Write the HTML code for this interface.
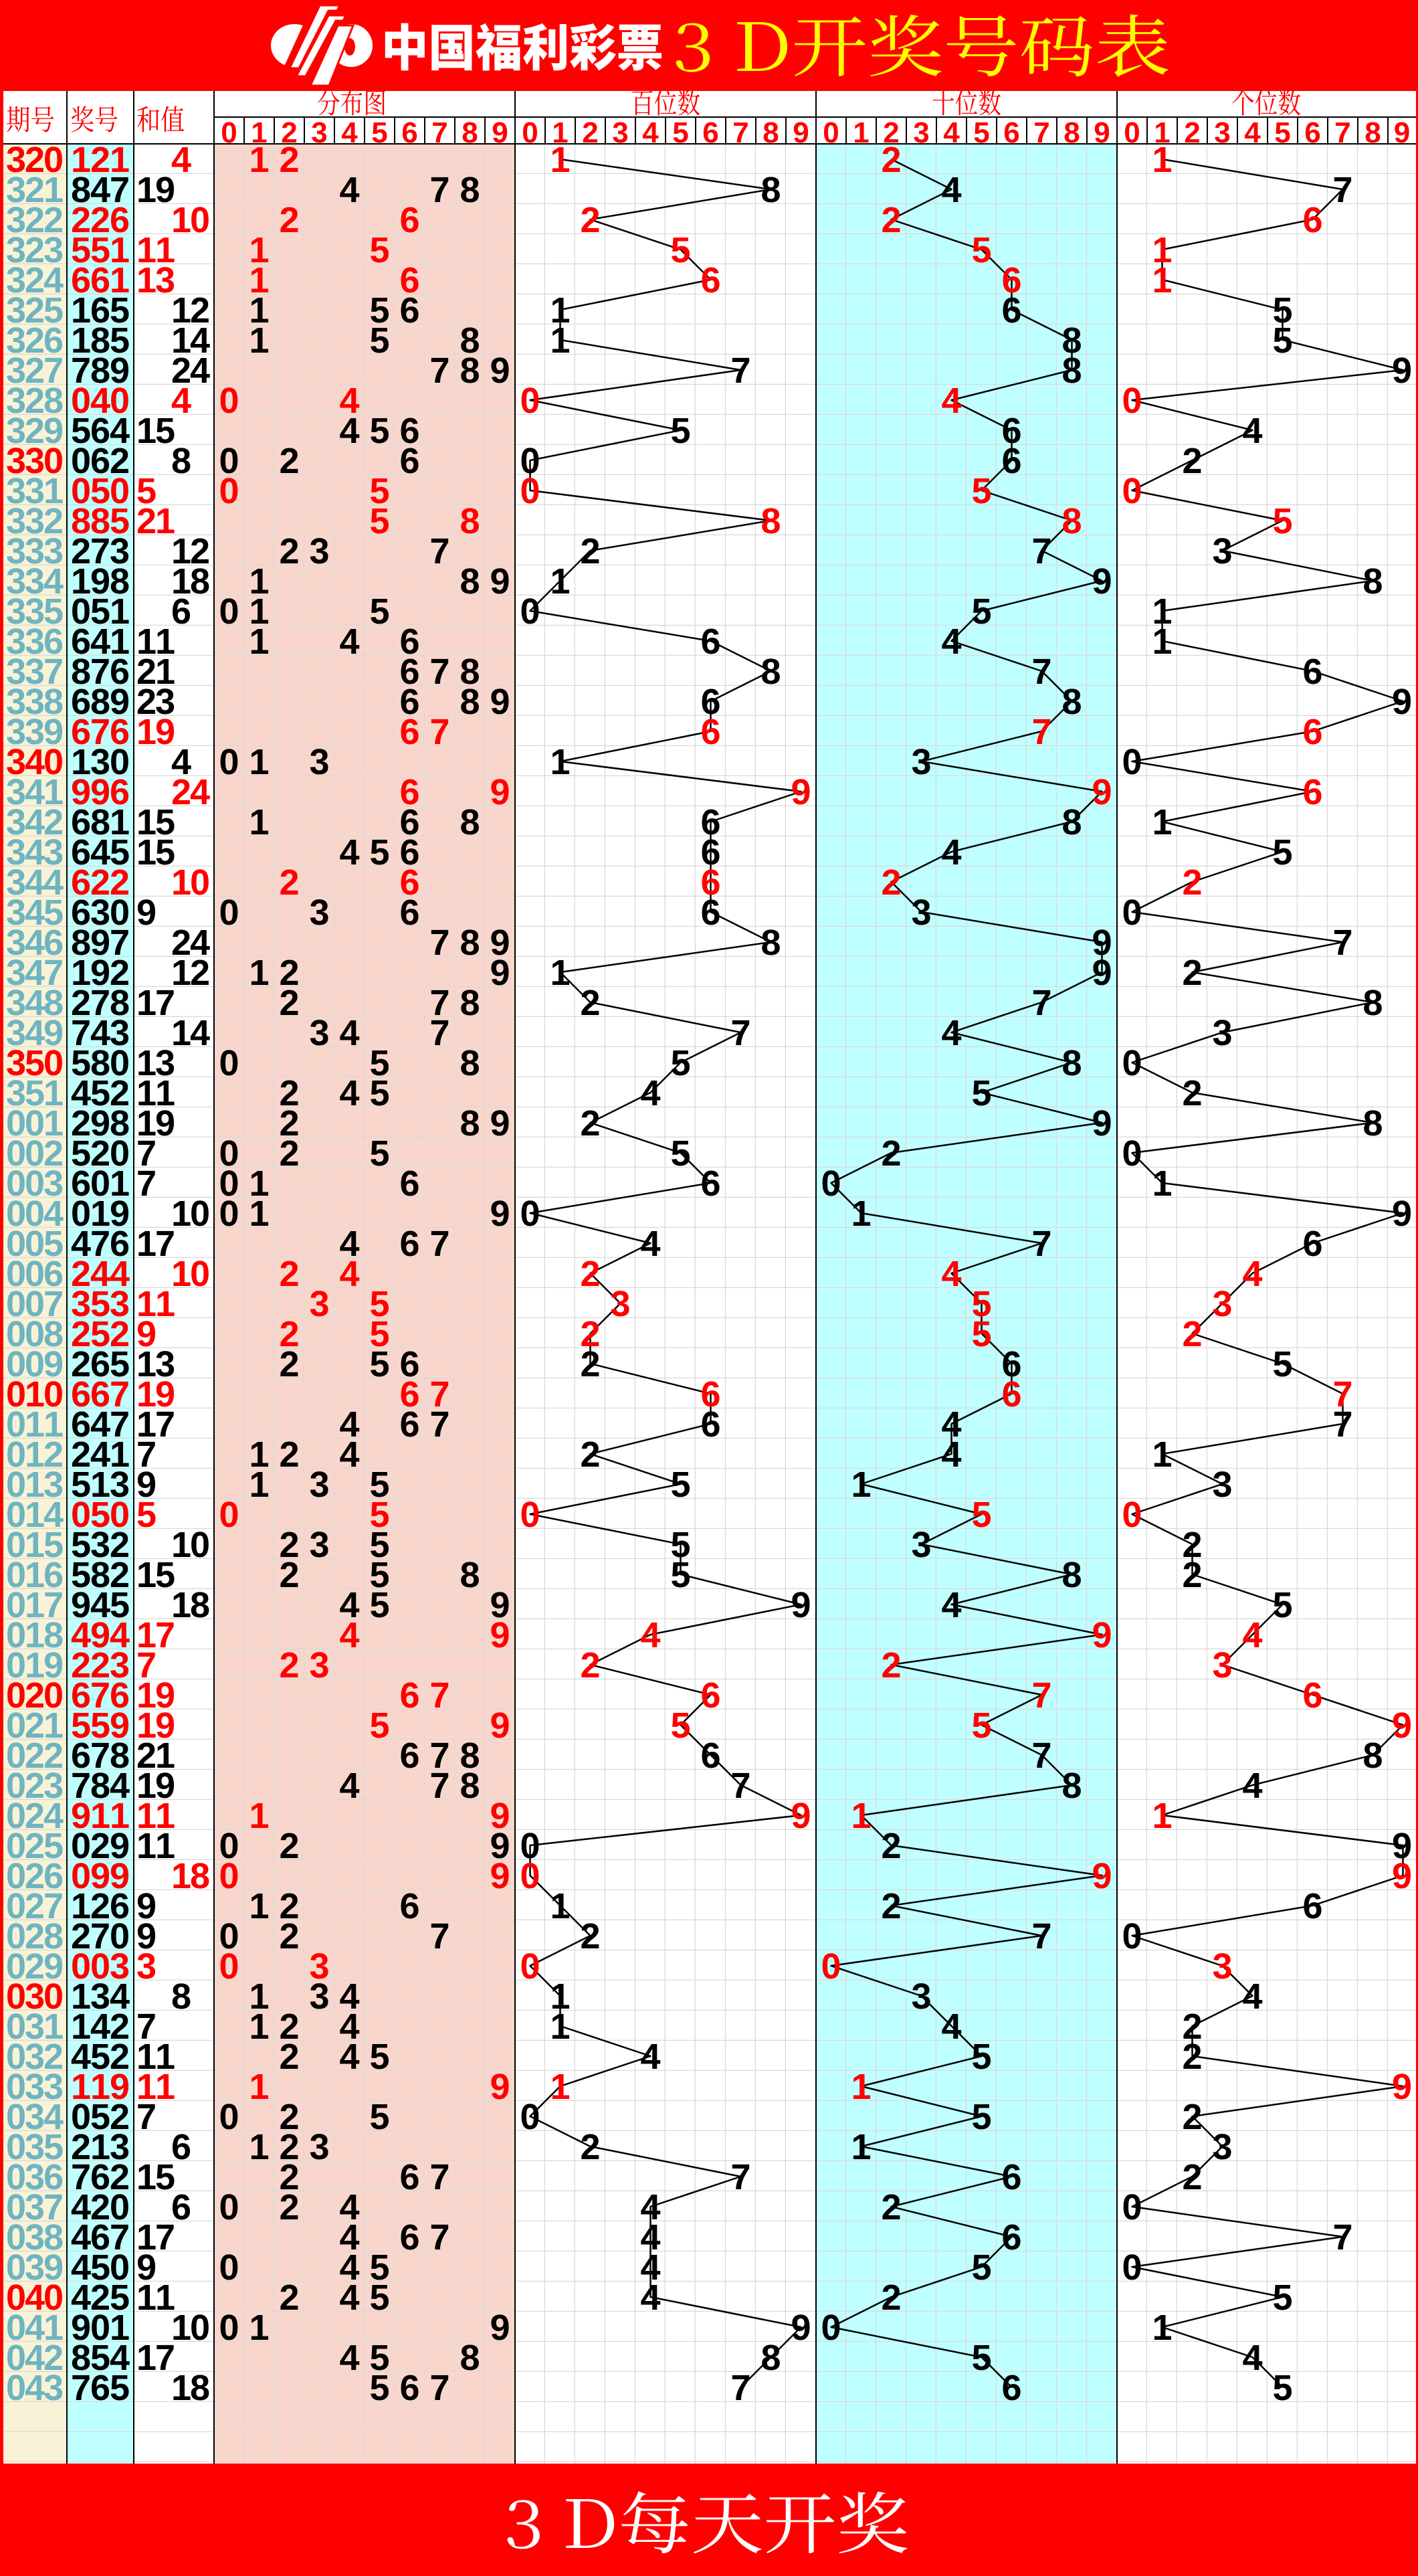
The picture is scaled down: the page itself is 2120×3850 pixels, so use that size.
<!DOCTYPE html>
<html><head><meta charset="utf-8"><style>
html,body{margin:0;padding:0;background:#fff}
svg{display:block}
text{font-family:"Liberation Sans",sans-serif;font-weight:bold;font-size:54px;text-anchor:middle}
.k{fill:#000}.r{fill:#f00}
.t{fill:#6fb4c1}.pr{fill:#f00}
.hd{font-family:"Noto Serif CJK SC","Liberation Serif",serif;font-weight:normal;font-size:42px;fill:#f00;text-anchor:start}
.hn{font-size:44px;fill:#f00}
.pl{fill:none;stroke:#000;stroke-width:2.5;vector-effect:non-scaling-stroke;stroke-linejoin:round}
</style></head><body>
<svg width="2120" height="3850" viewBox="0 0 2120 3850" xmlns="http://www.w3.org/2000/svg">
<defs>
<pattern id="g" x="320" y="215" width="45" height="45" patternUnits="userSpaceOnUse"><path d="M44.5 0V44.5H0" fill="none" stroke="#d9d9d9" stroke-width="1.6"/></pattern>
<pattern id="h" x="0" y="215" width="45" height="45" patternUnits="userSpaceOnUse"><path d="M0 44.5H45" fill="none" stroke="#d9d9d9" stroke-width="1.6"/></pattern>
</defs>
<rect width="2120" height="3850" fill="#fff"/>
<rect x="5" y="215" width="95" height="3467" fill="#f8f3d6"/>
<rect x="100" y="215" width="100" height="3467" fill="#c0ffff"/>
<rect x="320" y="215" width="450" height="3467" fill="#f9d6cc"/>
<rect x="1220" y="215" width="450" height="3467" fill="#c0ffff"/>
<rect x="5" y="215" width="315" height="3467" fill="url(#h)"/>
<rect x="320" y="215" width="1797" height="3467" fill="url(#g)"/>
<rect x="0" y="0" width="2120" height="136" fill="#f00"/>
<g fill="#fff">
<ellipse cx="440" cy="68" rx="35" ry="32"/>
<ellipse cx="525" cy="68" rx="32" ry="32"/>
</g>
<g fill="#f00">
<ellipse cx="449" cy="70" rx="8" ry="13"/>
<polygon points="470,0 480,0 430,110 420,110"/>
</g>
<g fill="#fff" stroke="#f00" stroke-width="3">
<polygon points="478,8 508,8 504,16 491,16 447,102 433,102"/>
<polygon points="491,23 517,23 513,31 502,31 457,114 443,114"/>
<polygon points="505,38 528,38 492,128 464,128"/>
</g>
<ellipse cx="523" cy="70" rx="8" ry="13" fill="#f00"/>
<text x="570" y="98" textLength="422" lengthAdjust="spacingAndGlyphs" style="font-family:'Noto Sans CJK SC',sans-serif;font-weight:900;font-size:74px;fill:#fff;text-anchor:start">中国福利彩票</text>
<text x="1005" y="106" textLength="745" lengthAdjust="spacingAndGlyphs" style="font-family:'Noto Serif CJK SC','Liberation Serif',serif;font-weight:normal;font-size:100px;fill:#ff0;text-anchor:start">3 D开奖号码表</text>
<rect x="0" y="0" width="5" height="3850" fill="#f00"/>
<rect x="2117" y="0" width="3" height="3850" fill="#f00"/>
<rect x="0" y="3682" width="2120" height="168" fill="#f00"/>
<text x="753" y="3808" textLength="606" lengthAdjust="spacingAndGlyphs" style="font-family:'Noto Serif CJK SC','Liberation Serif',serif;font-weight:normal;font-size:100px;fill:#fff;text-anchor:start">3 D每天开奖</text>
<text class="hd" x="9" y="194" textLength="73" lengthAdjust="spacingAndGlyphs">期号</text>
<text class="hd" x="105" y="194" textLength="72" lengthAdjust="spacingAndGlyphs">奖号</text>
<text class="hd" x="204" y="194" textLength="72" lengthAdjust="spacingAndGlyphs">和值</text>
<text class="hd" x="474" y="169" textLength="104" lengthAdjust="spacingAndGlyphs">分布图</text>
<text class="hd" x="943" y="169" textLength="104" lengthAdjust="spacingAndGlyphs">百位数</text>
<text class="hd" x="1393" y="169" textLength="104" lengthAdjust="spacingAndGlyphs">十位数</text>
<text class="hd" x="1841" y="169" textLength="104" lengthAdjust="spacingAndGlyphs">个位数</text>
<text class="hn" y="213" x="342.5 387.5 432.5 477.5 522.5 567.5 612.5 657.5 702.5 747.5">0123456789</text>
<text class="hn" y="213" x="792.5 837.5 882.5 927.5 972.5 1017.5 1062.5 1107.5 1152.5 1197.5">0123456789</text>
<text class="hn" y="213" x="1242.5 1287.5 1332.5 1377.5 1422.5 1467.5 1512.5 1557.5 1602.5 1647.5">0123456789</text>
<text class="hn" y="213" x="1692.5 1737.5 1782.5 1827.5 1872.5 1917.5 1962.5 2007.5 2052.5 2096">0123456789</text>
<g stroke="#000" stroke-width="2" fill="none">
<path d="M320 175H2117M5 215H2117"/>
<path d="M100 136V3682M200 136V3682M320 136V3682M770 136V3682M1220 136V3682M1670 136V3682"/>
<path d="M365 175V215M410 175V215M455 175V215M500 175V215M545 175V215M590 175V215M635 175V215M680 175V215M725 175V215"/>
<path d="M815 175V215M860 175V215M905 175V215M950 175V215M995 175V215M1040 175V215M1085 175V215M1130 175V215M1175 175V215"/>
<path d="M1265 175V215M1310 175V215M1355 175V215M1400 175V215M1445 175V215M1490 175V215M1535 175V215M1580 175V215M1625 175V215"/>
<path d="M1715 175V215M1760 175V215M1805 175V215M1850 175V215M1895 175V215M1940 175V215M1985 175V215M2030 175V215M2075 175V215"/>
</g>
<polyline class="pl" transform="translate(792.5,238) scale(45)" points="1,0 8,1 2,2 5,3 6,4 1,5 1,6 7,7 0,8 5,9 0,10 0,11 8,12 2,13 1,14 0,15 6,16 8,17 6,18 6,19 1,20 9,21 6,22 6,23 6,24 6,25 8,26 1,27 2,28 7,29 5,30 4,31 2,32 5,33 6,34 0,35 4,36 2,37 3,38 2,39 2,40 6,41 6,42 2,43 5,44 0,45 5,46 5,47 9,48 4,49 2,50 6,51 5,52 6,53 7,54 9,55 0,56 0,57 1,58 2,59 0,60 1,61 1,62 4,63 1,64 0,65 2,66 7,67 4,68 4,69 4,70 4,71 9,72 8,73 7,74"/>
<polyline class="pl" transform="translate(1242.5,238) scale(45)" points="2,0 4,1 2,2 5,3 6,4 6,5 8,6 8,7 4,8 6,9 6,10 5,11 8,12 7,13 9,14 5,15 4,16 7,17 8,18 7,19 3,20 9,21 8,22 4,23 2,24 3,25 9,26 9,27 7,28 4,29 8,30 5,31 9,32 2,33 0,34 1,35 7,36 4,37 5,38 5,39 6,40 6,41 4,42 4,43 1,44 5,45 3,46 8,47 4,48 9,49 2,50 7,51 5,52 7,53 8,54 1,55 2,56 9,57 2,58 7,59 0,60 3,61 4,62 5,63 1,64 5,65 1,66 6,67 2,68 6,69 5,70 2,71 0,72 5,73 6,74"/>
<polyline class="pl" transform="translate(1692.5,238) scale(45)" points="1,0 7,1 6,2 1,3 1,4 5,5 5,6 9,7 0,8 4,9 2,10 0,11 5,12 3,13 8,14 1,15 1,16 6,17 9,18 6,19 0,20 6,21 1,22 5,23 2,24 0,25 7,26 2,27 8,28 3,29 0,30 2,31 8,32 0,33 1,34 9,35 6,36 4,37 3,38 2,39 5,40 7,41 7,42 1,43 3,44 0,45 2,46 2,47 5,48 4,49 3,50 6,51 9,52 8,53 4,54 1,55 9,56 9,57 6,58 0,59 3,60 4,61 2,62 2,63 9,64 2,65 3,66 2,67 0,68 7,69 0,70 5,71 1,72 4,73 5,74"/>
<g class="r" transform="translate(0,257)"><text class="pr" x="24 52 80">320</text><text x="121 150 179">121</text><text x="271">4</text><text x="387.5 432.5">12</text><text x="837.5">1</text><text x="1332.5">2</text><text x="1737.5">1</text></g>
<g class="k" transform="translate(0,302)"><text class="t" x="24 52 80">321</text><text x="121 150 179">847</text><text x="219 247">19</text><text x="522.5 657.5 702.5">478</text><text x="1152.5">8</text><text x="1422.5">4</text><text x="2007.5">7</text></g>
<g class="r" transform="translate(0,347)"><text class="t" x="24 52 80">322</text><text x="121 150 179">226</text><text x="271 299">10</text><text x="432.5 612.5">26</text><text x="882.5">2</text><text x="1332.5">2</text><text x="1962.5">6</text></g>
<g class="r" transform="translate(0,392)"><text class="t" x="24 52 80">323</text><text x="121 150 179">551</text><text x="219 247">11</text><text x="387.5 567.5">15</text><text x="1017.5">5</text><text x="1467.5">5</text><text x="1737.5">1</text></g>
<g class="r" transform="translate(0,437)"><text class="t" x="24 52 80">324</text><text x="121 150 179">661</text><text x="219 247">13</text><text x="387.5 612.5">16</text><text x="1062.5">6</text><text x="1512.5">6</text><text x="1737.5">1</text></g>
<g class="k" transform="translate(0,482)"><text class="t" x="24 52 80">325</text><text x="121 150 179">165</text><text x="271 299">12</text><text x="387.5 567.5 612.5">156</text><text x="837.5">1</text><text x="1512.5">6</text><text x="1917.5">5</text></g>
<g class="k" transform="translate(0,527)"><text class="t" x="24 52 80">326</text><text x="121 150 179">185</text><text x="271 299">14</text><text x="387.5 567.5 702.5">158</text><text x="837.5">1</text><text x="1602.5">8</text><text x="1917.5">5</text></g>
<g class="k" transform="translate(0,572)"><text class="t" x="24 52 80">327</text><text x="121 150 179">789</text><text x="271 299">24</text><text x="657.5 702.5 747.5">789</text><text x="1107.5">7</text><text x="1602.5">8</text><text x="2096">9</text></g>
<g class="r" transform="translate(0,617)"><text class="t" x="24 52 80">328</text><text x="121 150 179">040</text><text x="271">4</text><text x="342.5 522.5">04</text><text x="792.5">0</text><text x="1422.5">4</text><text x="1692.5">0</text></g>
<g class="k" transform="translate(0,662)"><text class="t" x="24 52 80">329</text><text x="121 150 179">564</text><text x="219 247">15</text><text x="522.5 567.5 612.5">456</text><text x="1017.5">5</text><text x="1512.5">6</text><text x="1872.5">4</text></g>
<g class="k" transform="translate(0,707)"><text class="pr" x="24 52 80">330</text><text x="121 150 179">062</text><text x="271">8</text><text x="342.5 432.5 612.5">026</text><text x="792.5">0</text><text x="1512.5">6</text><text x="1782.5">2</text></g>
<g class="r" transform="translate(0,752)"><text class="t" x="24 52 80">331</text><text x="121 150 179">050</text><text x="219">5</text><text x="342.5 567.5">05</text><text x="792.5">0</text><text x="1467.5">5</text><text x="1692.5">0</text></g>
<g class="r" transform="translate(0,797)"><text class="t" x="24 52 80">332</text><text x="121 150 179">885</text><text x="219 247">21</text><text x="567.5 702.5">58</text><text x="1152.5">8</text><text x="1602.5">8</text><text x="1917.5">5</text></g>
<g class="k" transform="translate(0,842)"><text class="t" x="24 52 80">333</text><text x="121 150 179">273</text><text x="271 299">12</text><text x="432.5 477.5 657.5">237</text><text x="882.5">2</text><text x="1557.5">7</text><text x="1827.5">3</text></g>
<g class="k" transform="translate(0,887)"><text class="t" x="24 52 80">334</text><text x="121 150 179">198</text><text x="271 299">18</text><text x="387.5 702.5 747.5">189</text><text x="837.5">1</text><text x="1647.5">9</text><text x="2052.5">8</text></g>
<g class="k" transform="translate(0,932)"><text class="t" x="24 52 80">335</text><text x="121 150 179">051</text><text x="271">6</text><text x="342.5 387.5 567.5">015</text><text x="792.5">0</text><text x="1467.5">5</text><text x="1737.5">1</text></g>
<g class="k" transform="translate(0,977)"><text class="t" x="24 52 80">336</text><text x="121 150 179">641</text><text x="219 247">11</text><text x="387.5 522.5 612.5">146</text><text x="1062.5">6</text><text x="1422.5">4</text><text x="1737.5">1</text></g>
<g class="k" transform="translate(0,1022)"><text class="t" x="24 52 80">337</text><text x="121 150 179">876</text><text x="219 247">21</text><text x="612.5 657.5 702.5">678</text><text x="1152.5">8</text><text x="1557.5">7</text><text x="1962.5">6</text></g>
<g class="k" transform="translate(0,1067)"><text class="t" x="24 52 80">338</text><text x="121 150 179">689</text><text x="219 247">23</text><text x="612.5 702.5 747.5">689</text><text x="1062.5">6</text><text x="1602.5">8</text><text x="2096">9</text></g>
<g class="r" transform="translate(0,1112)"><text class="t" x="24 52 80">339</text><text x="121 150 179">676</text><text x="219 247">19</text><text x="612.5 657.5">67</text><text x="1062.5">6</text><text x="1557.5">7</text><text x="1962.5">6</text></g>
<g class="k" transform="translate(0,1157)"><text class="pr" x="24 52 80">340</text><text x="121 150 179">130</text><text x="271">4</text><text x="342.5 387.5 477.5">013</text><text x="837.5">1</text><text x="1377.5">3</text><text x="1692.5">0</text></g>
<g class="r" transform="translate(0,1202)"><text class="t" x="24 52 80">341</text><text x="121 150 179">996</text><text x="271 299">24</text><text x="612.5 747.5">69</text><text x="1197.5">9</text><text x="1647.5">9</text><text x="1962.5">6</text></g>
<g class="k" transform="translate(0,1247)"><text class="t" x="24 52 80">342</text><text x="121 150 179">681</text><text x="219 247">15</text><text x="387.5 612.5 702.5">168</text><text x="1062.5">6</text><text x="1602.5">8</text><text x="1737.5">1</text></g>
<g class="k" transform="translate(0,1292)"><text class="t" x="24 52 80">343</text><text x="121 150 179">645</text><text x="219 247">15</text><text x="522.5 567.5 612.5">456</text><text x="1062.5">6</text><text x="1422.5">4</text><text x="1917.5">5</text></g>
<g class="r" transform="translate(0,1337)"><text class="t" x="24 52 80">344</text><text x="121 150 179">622</text><text x="271 299">10</text><text x="432.5 612.5">26</text><text x="1062.5">6</text><text x="1332.5">2</text><text x="1782.5">2</text></g>
<g class="k" transform="translate(0,1382)"><text class="t" x="24 52 80">345</text><text x="121 150 179">630</text><text x="219">9</text><text x="342.5 477.5 612.5">036</text><text x="1062.5">6</text><text x="1377.5">3</text><text x="1692.5">0</text></g>
<g class="k" transform="translate(0,1427)"><text class="t" x="24 52 80">346</text><text x="121 150 179">897</text><text x="271 299">24</text><text x="657.5 702.5 747.5">789</text><text x="1152.5">8</text><text x="1647.5">9</text><text x="2007.5">7</text></g>
<g class="k" transform="translate(0,1472)"><text class="t" x="24 52 80">347</text><text x="121 150 179">192</text><text x="271 299">12</text><text x="387.5 432.5 747.5">129</text><text x="837.5">1</text><text x="1647.5">9</text><text x="1782.5">2</text></g>
<g class="k" transform="translate(0,1517)"><text class="t" x="24 52 80">348</text><text x="121 150 179">278</text><text x="219 247">17</text><text x="432.5 657.5 702.5">278</text><text x="882.5">2</text><text x="1557.5">7</text><text x="2052.5">8</text></g>
<g class="k" transform="translate(0,1562)"><text class="t" x="24 52 80">349</text><text x="121 150 179">743</text><text x="271 299">14</text><text x="477.5 522.5 657.5">347</text><text x="1107.5">7</text><text x="1422.5">4</text><text x="1827.5">3</text></g>
<g class="k" transform="translate(0,1607)"><text class="pr" x="24 52 80">350</text><text x="121 150 179">580</text><text x="219 247">13</text><text x="342.5 567.5 702.5">058</text><text x="1017.5">5</text><text x="1602.5">8</text><text x="1692.5">0</text></g>
<g class="k" transform="translate(0,1652)"><text class="t" x="24 52 80">351</text><text x="121 150 179">452</text><text x="219 247">11</text><text x="432.5 522.5 567.5">245</text><text x="972.5">4</text><text x="1467.5">5</text><text x="1782.5">2</text></g>
<g class="k" transform="translate(0,1697)"><text class="t" x="24 52 80">001</text><text x="121 150 179">298</text><text x="219 247">19</text><text x="432.5 702.5 747.5">289</text><text x="882.5">2</text><text x="1647.5">9</text><text x="2052.5">8</text></g>
<g class="k" transform="translate(0,1742)"><text class="t" x="24 52 80">002</text><text x="121 150 179">520</text><text x="219">7</text><text x="342.5 432.5 567.5">025</text><text x="1017.5">5</text><text x="1332.5">2</text><text x="1692.5">0</text></g>
<g class="k" transform="translate(0,1787)"><text class="t" x="24 52 80">003</text><text x="121 150 179">601</text><text x="219">7</text><text x="342.5 387.5 612.5">016</text><text x="1062.5">6</text><text x="1242.5">0</text><text x="1737.5">1</text></g>
<g class="k" transform="translate(0,1832)"><text class="t" x="24 52 80">004</text><text x="121 150 179">019</text><text x="271 299">10</text><text x="342.5 387.5 747.5">019</text><text x="792.5">0</text><text x="1287.5">1</text><text x="2096">9</text></g>
<g class="k" transform="translate(0,1877)"><text class="t" x="24 52 80">005</text><text x="121 150 179">476</text><text x="219 247">17</text><text x="522.5 612.5 657.5">467</text><text x="972.5">4</text><text x="1557.5">7</text><text x="1962.5">6</text></g>
<g class="r" transform="translate(0,1922)"><text class="t" x="24 52 80">006</text><text x="121 150 179">244</text><text x="271 299">10</text><text x="432.5 522.5">24</text><text x="882.5">2</text><text x="1422.5">4</text><text x="1872.5">4</text></g>
<g class="r" transform="translate(0,1967)"><text class="t" x="24 52 80">007</text><text x="121 150 179">353</text><text x="219 247">11</text><text x="477.5 567.5">35</text><text x="927.5">3</text><text x="1467.5">5</text><text x="1827.5">3</text></g>
<g class="r" transform="translate(0,2012)"><text class="t" x="24 52 80">008</text><text x="121 150 179">252</text><text x="219">9</text><text x="432.5 567.5">25</text><text x="882.5">2</text><text x="1467.5">5</text><text x="1782.5">2</text></g>
<g class="k" transform="translate(0,2057)"><text class="t" x="24 52 80">009</text><text x="121 150 179">265</text><text x="219 247">13</text><text x="432.5 567.5 612.5">256</text><text x="882.5">2</text><text x="1512.5">6</text><text x="1917.5">5</text></g>
<g class="r" transform="translate(0,2102)"><text class="pr" x="24 52 80">010</text><text x="121 150 179">667</text><text x="219 247">19</text><text x="612.5 657.5">67</text><text x="1062.5">6</text><text x="1512.5">6</text><text x="2007.5">7</text></g>
<g class="k" transform="translate(0,2147)"><text class="t" x="24 52 80">011</text><text x="121 150 179">647</text><text x="219 247">17</text><text x="522.5 612.5 657.5">467</text><text x="1062.5">6</text><text x="1422.5">4</text><text x="2007.5">7</text></g>
<g class="k" transform="translate(0,2192)"><text class="t" x="24 52 80">012</text><text x="121 150 179">241</text><text x="219">7</text><text x="387.5 432.5 522.5">124</text><text x="882.5">2</text><text x="1422.5">4</text><text x="1737.5">1</text></g>
<g class="k" transform="translate(0,2237)"><text class="t" x="24 52 80">013</text><text x="121 150 179">513</text><text x="219">9</text><text x="387.5 477.5 567.5">135</text><text x="1017.5">5</text><text x="1287.5">1</text><text x="1827.5">3</text></g>
<g class="r" transform="translate(0,2282)"><text class="t" x="24 52 80">014</text><text x="121 150 179">050</text><text x="219">5</text><text x="342.5 567.5">05</text><text x="792.5">0</text><text x="1467.5">5</text><text x="1692.5">0</text></g>
<g class="k" transform="translate(0,2327)"><text class="t" x="24 52 80">015</text><text x="121 150 179">532</text><text x="271 299">10</text><text x="432.5 477.5 567.5">235</text><text x="1017.5">5</text><text x="1377.5">3</text><text x="1782.5">2</text></g>
<g class="k" transform="translate(0,2372)"><text class="t" x="24 52 80">016</text><text x="121 150 179">582</text><text x="219 247">15</text><text x="432.5 567.5 702.5">258</text><text x="1017.5">5</text><text x="1602.5">8</text><text x="1782.5">2</text></g>
<g class="k" transform="translate(0,2417)"><text class="t" x="24 52 80">017</text><text x="121 150 179">945</text><text x="271 299">18</text><text x="522.5 567.5 747.5">459</text><text x="1197.5">9</text><text x="1422.5">4</text><text x="1917.5">5</text></g>
<g class="r" transform="translate(0,2462)"><text class="t" x="24 52 80">018</text><text x="121 150 179">494</text><text x="219 247">17</text><text x="522.5 747.5">49</text><text x="972.5">4</text><text x="1647.5">9</text><text x="1872.5">4</text></g>
<g class="r" transform="translate(0,2507)"><text class="t" x="24 52 80">019</text><text x="121 150 179">223</text><text x="219">7</text><text x="432.5 477.5">23</text><text x="882.5">2</text><text x="1332.5">2</text><text x="1827.5">3</text></g>
<g class="r" transform="translate(0,2552)"><text class="pr" x="24 52 80">020</text><text x="121 150 179">676</text><text x="219 247">19</text><text x="612.5 657.5">67</text><text x="1062.5">6</text><text x="1557.5">7</text><text x="1962.5">6</text></g>
<g class="r" transform="translate(0,2597)"><text class="t" x="24 52 80">021</text><text x="121 150 179">559</text><text x="219 247">19</text><text x="567.5 747.5">59</text><text x="1017.5">5</text><text x="1467.5">5</text><text x="2096">9</text></g>
<g class="k" transform="translate(0,2642)"><text class="t" x="24 52 80">022</text><text x="121 150 179">678</text><text x="219 247">21</text><text x="612.5 657.5 702.5">678</text><text x="1062.5">6</text><text x="1557.5">7</text><text x="2052.5">8</text></g>
<g class="k" transform="translate(0,2687)"><text class="t" x="24 52 80">023</text><text x="121 150 179">784</text><text x="219 247">19</text><text x="522.5 657.5 702.5">478</text><text x="1107.5">7</text><text x="1602.5">8</text><text x="1872.5">4</text></g>
<g class="r" transform="translate(0,2732)"><text class="t" x="24 52 80">024</text><text x="121 150 179">911</text><text x="219 247">11</text><text x="387.5 747.5">19</text><text x="1197.5">9</text><text x="1287.5">1</text><text x="1737.5">1</text></g>
<g class="k" transform="translate(0,2777)"><text class="t" x="24 52 80">025</text><text x="121 150 179">029</text><text x="219 247">11</text><text x="342.5 432.5 747.5">029</text><text x="792.5">0</text><text x="1332.5">2</text><text x="2096">9</text></g>
<g class="r" transform="translate(0,2822)"><text class="t" x="24 52 80">026</text><text x="121 150 179">099</text><text x="271 299">18</text><text x="342.5 747.5">09</text><text x="792.5">0</text><text x="1647.5">9</text><text x="2096">9</text></g>
<g class="k" transform="translate(0,2867)"><text class="t" x="24 52 80">027</text><text x="121 150 179">126</text><text x="219">9</text><text x="387.5 432.5 612.5">126</text><text x="837.5">1</text><text x="1332.5">2</text><text x="1962.5">6</text></g>
<g class="k" transform="translate(0,2912)"><text class="t" x="24 52 80">028</text><text x="121 150 179">270</text><text x="219">9</text><text x="342.5 432.5 657.5">027</text><text x="882.5">2</text><text x="1557.5">7</text><text x="1692.5">0</text></g>
<g class="r" transform="translate(0,2957)"><text class="t" x="24 52 80">029</text><text x="121 150 179">003</text><text x="219">3</text><text x="342.5 477.5">03</text><text x="792.5">0</text><text x="1242.5">0</text><text x="1827.5">3</text></g>
<g class="k" transform="translate(0,3002)"><text class="pr" x="24 52 80">030</text><text x="121 150 179">134</text><text x="271">8</text><text x="387.5 477.5 522.5">134</text><text x="837.5">1</text><text x="1377.5">3</text><text x="1872.5">4</text></g>
<g class="k" transform="translate(0,3047)"><text class="t" x="24 52 80">031</text><text x="121 150 179">142</text><text x="219">7</text><text x="387.5 432.5 522.5">124</text><text x="837.5">1</text><text x="1422.5">4</text><text x="1782.5">2</text></g>
<g class="k" transform="translate(0,3092)"><text class="t" x="24 52 80">032</text><text x="121 150 179">452</text><text x="219 247">11</text><text x="432.5 522.5 567.5">245</text><text x="972.5">4</text><text x="1467.5">5</text><text x="1782.5">2</text></g>
<g class="r" transform="translate(0,3137)"><text class="t" x="24 52 80">033</text><text x="121 150 179">119</text><text x="219 247">11</text><text x="387.5 747.5">19</text><text x="837.5">1</text><text x="1287.5">1</text><text x="2096">9</text></g>
<g class="k" transform="translate(0,3182)"><text class="t" x="24 52 80">034</text><text x="121 150 179">052</text><text x="219">7</text><text x="342.5 432.5 567.5">025</text><text x="792.5">0</text><text x="1467.5">5</text><text x="1782.5">2</text></g>
<g class="k" transform="translate(0,3227)"><text class="t" x="24 52 80">035</text><text x="121 150 179">213</text><text x="271">6</text><text x="387.5 432.5 477.5">123</text><text x="882.5">2</text><text x="1287.5">1</text><text x="1827.5">3</text></g>
<g class="k" transform="translate(0,3272)"><text class="t" x="24 52 80">036</text><text x="121 150 179">762</text><text x="219 247">15</text><text x="432.5 612.5 657.5">267</text><text x="1107.5">7</text><text x="1512.5">6</text><text x="1782.5">2</text></g>
<g class="k" transform="translate(0,3317)"><text class="t" x="24 52 80">037</text><text x="121 150 179">420</text><text x="271">6</text><text x="342.5 432.5 522.5">024</text><text x="972.5">4</text><text x="1332.5">2</text><text x="1692.5">0</text></g>
<g class="k" transform="translate(0,3362)"><text class="t" x="24 52 80">038</text><text x="121 150 179">467</text><text x="219 247">17</text><text x="522.5 612.5 657.5">467</text><text x="972.5">4</text><text x="1512.5">6</text><text x="2007.5">7</text></g>
<g class="k" transform="translate(0,3407)"><text class="t" x="24 52 80">039</text><text x="121 150 179">450</text><text x="219">9</text><text x="342.5 522.5 567.5">045</text><text x="972.5">4</text><text x="1467.5">5</text><text x="1692.5">0</text></g>
<g class="k" transform="translate(0,3452)"><text class="pr" x="24 52 80">040</text><text x="121 150 179">425</text><text x="219 247">11</text><text x="432.5 522.5 567.5">245</text><text x="972.5">4</text><text x="1332.5">2</text><text x="1917.5">5</text></g>
<g class="k" transform="translate(0,3497)"><text class="t" x="24 52 80">041</text><text x="121 150 179">901</text><text x="271 299">10</text><text x="342.5 387.5 747.5">019</text><text x="1197.5">9</text><text x="1242.5">0</text><text x="1737.5">1</text></g>
<g class="k" transform="translate(0,3542)"><text class="t" x="24 52 80">042</text><text x="121 150 179">854</text><text x="219 247">17</text><text x="522.5 567.5 702.5">458</text><text x="1152.5">8</text><text x="1467.5">5</text><text x="1872.5">4</text></g>
<g class="k" transform="translate(0,3587)"><text class="t" x="24 52 80">043</text><text x="121 150 179">765</text><text x="271 299">18</text><text x="567.5 612.5 657.5">567</text><text x="1107.5">7</text><text x="1512.5">6</text><text x="1917.5">5</text></g>
</svg>
</body></html>
